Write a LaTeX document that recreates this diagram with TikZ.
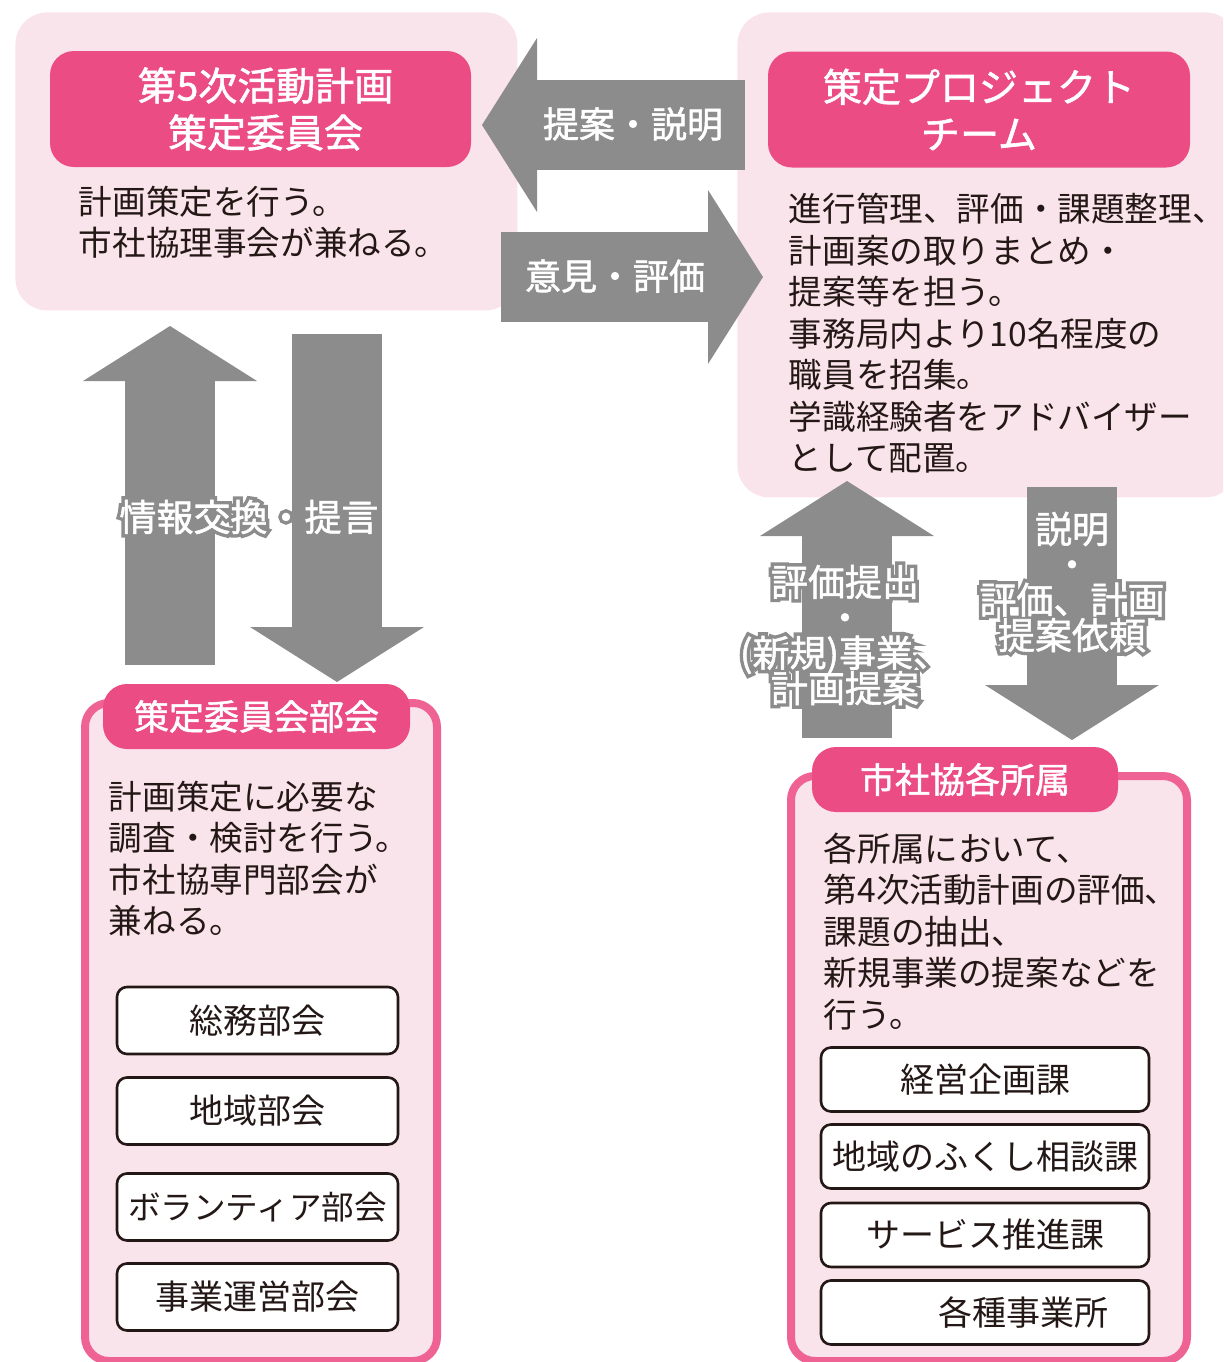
\documentclass[tikz,border=0pt]{standalone}
\usepackage{fontspec}
\setmainfont{Noto Sans CJK JP}
\newfontfamily\mediumfont[FakeBold=1.5]{Noto Sans CJK JP}
\newfontfamily\halofont[FakeBold=20]{Noto Sans CJK JP}
\usetikzlibrary{arrows.meta,calc}
\definecolor{panelpink}{HTML}{FAE4EB}
\definecolor{titlepink}{HTML}{EC4C84}
\definecolor{framepink}{HTML}{EE6393}
\definecolor{arrowgray}{HTML}{8C8C8C}
\definecolor{inkblack}{HTML}{231815}
\newcommand\sizebody{\fontsize{16.8pt}{20.75pt}\selectfont}
\newcommand\sizetitle{\mediumfont\fontsize{19.5pt}{23.5pt}\selectfont}
\newcommand\sizetab{\mediumfont\fontsize{17.5pt}{21pt}\selectfont}
\newcommand\sizeitem{\fontsize{17pt}{21pt}\selectfont}
\newcommand\sizearrow{\mediumfont\fontsize{18pt}{21pt}\selectfont}
\newcommand\sizehalo{\fontsize{18.5pt}{17.7pt}\selectfont\lineskiplimit=-20pt}
\tikzset{
  panel/.style={fill=panelpink, rounded corners=16pt, inner sep=0pt, anchor=north west},
  pinkframe/.style={draw=framepink, line width=4pt, fill=panelpink, rounded corners=12pt, inner sep=0pt, anchor=north west},
  titlebox/.style={fill=titlepink, rounded corners=12pt, text=white, align=center, font=\sizetitle, inner sep=0pt},
  tabbox/.style={fill=titlepink, rounded corners=12pt, text=white, font=\sizetab, inner sep=0pt},
  bodytext/.style={text=inkblack, font=\sizebody, align=left, anchor=north west, inner sep=0pt},
  itembox/.style={draw=inkblack, fill=white, line width=1.3pt, rounded corners=5pt, text=inkblack, font=\sizeitem, inner sep=0pt},
  arrowlabel/.style={text=white, font=\sizearrow, inner sep=0pt},
  halolabel/.style={text=white, font=\mediumfont\sizehalo, align=center, inner sep=0pt},
  haloback/.style={halolabel, text=arrowgray, font=\halofont\sizehalo}
}
\def\drawbig{\draw[color=arrowgray, line width=45pt, -{Triangle[length=27.5pt,width=87pt,line width=0pt]}]}
\def\leftitem{\node[itembox, minimum width=140.5pt, minimum height=33.5pt]}
\def\rightitem{\node[itembox, minimum width=164pt, minimum height=32pt]}
% white text with a grey rim
\newcommand\halonode[3]{%
  \node[haloback] at (#2) {#3};
  \node[halolabel] (#1) at (#2) {#3};
}

\begin{document}
\begin{tikzpicture}[x=0.5pt,y=-0.5pt]
\useasboundingbox (0,0) rectangle (1223,1362);
\clip (0,0) rectangle (1223,1362);

% top row
\node[panel, minimum width=251pt, minimum height=149pt] (commpanel) at (15,12) {};
\node[panel, minimum width=250pt, minimum height=242.5pt] (teampanel) at (737,12) {};
\node[titlebox, minimum width=210.5pt, minimum height=58pt] (comm) at (260.5,109) {\hspace*{5pt}第5次活動計画\\\hspace*{5pt}策定委員会};
\node[titlebox, minimum width=211pt, minimum height=58pt] (team) at (979,109.5) {策定プロジェクト\\チーム};
\node[bodytext, font=\fontsize{16.8pt}{20.5pt}\selectfont] (commtext) at (78.5,185.5) {計画策定を行う。\\市社協理事会が兼ねる。};
\node[bodytext] (teamtext) at (788.5,193) {進行管理、評価・課題整理、\\計画案の取りまとめ・\\提案等を担う。\\事務局内より10名程度の\\職員を招集。\\学識経験者をアドバイザー\\として配置。};

% bottom left
\node[pinkframe, minimum width=176pt, minimum height=329pt] (subpanel) at (81,699) {};
\node[tabbox, minimum width=153.5pt, minimum height=32.5pt] (sub) at (256.5,716.5) {策定委員会部会};
\node[bodytext] (subtext) at (108.5,780.5) {計画策定に必要な\\調査・検討を行う。\\市社協専門部会が\\兼ねる。};
\leftitem (soumu) at (257.5,1020.5) {総務部会};
\leftitem (chiiki) at (257.5,1111) {地域部会};
\leftitem (volunteer) at (257.5,1207) {\fontsize{16.3pt}{20pt}\selectfont ボランティア部会};
\leftitem (jigyou) at (257.5,1297) {事業運営部会};

% bottom right
\node[pinkframe, minimum width=198pt, minimum height=292.5pt] (unitpanel) at (787,772) {};
\node[tabbox, minimum width=153pt, minimum height=32.5pt] (unit) at (965,779.5) {市社協各所属};
\node[bodytext] (unittext) at (823.5,832.5) {各所属において、\\第4次活動計画の評価、\\課題の抽出、\\新規事業の提案などを\\行う。};
\rightitem (keiei) at (985,1079.5) {経営企画課};
\rightitem (soudan) at (985,1156.5) {地域のふくし相談課};
\rightitem (service) at (985,1235) {サービス推進課};
\rightitem (office) at (985,1312.5) {\hspace*{38pt}各種事業所};

% big arrows
\coordinate (proposeS) at (745,125);
\coordinate (proposeE) at (482,125);
\coordinate (opinionS) at (501,277);
\coordinate (opinionE) at (763,277);
\coordinate (infoS) at (170,665);
\coordinate (infoE) at (170,326);
\coordinate (adviceS) at (337,334);
\coordinate (adviceE) at (337,682);
\coordinate (reportS) at (847,738);
\coordinate (reportE) at (847,481);
\coordinate (requestS) at (1072,487);
\coordinate (requestE) at (1072,740);
\drawbig (proposeS) -- (proposeE);
\drawbig (opinionS) -- (opinionE);
\drawbig (infoS) -- (infoE);
\drawbig (adviceS) -- (adviceE);
\drawbig (reportS) -- (reportE);
\drawbig (requestS) -- (requestE);

% arrow labels
\node[arrowlabel] (proposelabel) at (633,124) {提案・説明};
\node[arrowlabel] (opinionlabel) at (615,276) {意見・評価};
\halonode{infolabel}{249,517}{情報交換・提言}
\halonode{reportlabel}{845,635}{評価提出\\・\\(新規)事業、\\計画提案}
\halonode{requestlabel}{1072,582}{説明\\・\\評価、計画\\提案依頼}
\end{tikzpicture}
\end{document}
